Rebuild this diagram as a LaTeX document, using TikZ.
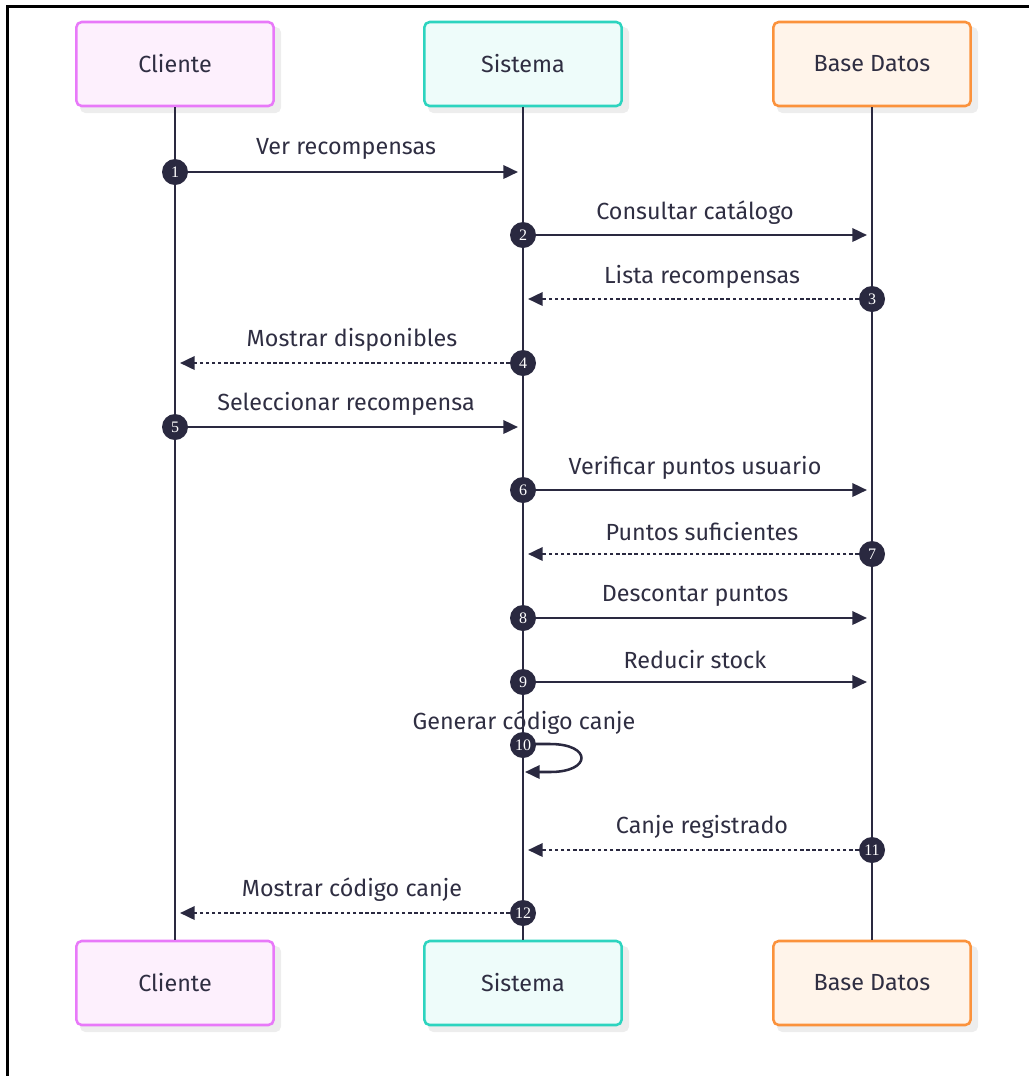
\documentclass[tikz,border=0pt]{standalone}
\usepackage{fontspec}
\setmainfont{Fira Sans}
\newfontfamily\numfont{Liberation Serif}
\usetikzlibrary{arrows.meta}

\definecolor{ink}{HTML}{2A2940}
\definecolor{txt}{HTML}{2F2E42}
\definecolor{cliBorder}{HTML}{E879F9}
\definecolor{cliFill}{HTML}{FDF0FD}
\definecolor{sysBorder}{HTML}{2DD4BF}
\definecolor{sysFill}{HTML}{EEFCFA}
\definecolor{dbBorder}{HTML}{FB923C}
\definecolor{dbFill}{HTML}{FFF4EA}
\definecolor{shade}{HTML}{EDEDED}

\tikzset{
  actor/.style={rectangle, rounded corners=4pt, line width=1.9pt,
    minimum width=148pt, minimum height=63pt, text=txt,
    font=\fontsize{17.5pt}{20pt}\selectfont},
  cliente/.style={actor, draw=cliBorder, fill=cliFill},
  sistema/.style={actor, draw=sysBorder, fill=sysFill},
  basedatos/.style={actor, draw=dbBorder, fill=dbFill},
  boxshadow/.style={fill=shade, rounded corners=4pt},
  lifeline/.style={draw=ink, line width=1.9pt},
  msg/.style={draw=ink, line width=1.9pt, -{Triangle[length=11pt,width=10pt]}},
  reply/.style={msg, dash pattern=on 2.6pt off 2pt},
  num/.style={circle, fill=ink, text=white, inner sep=0pt, minimum size=19.5pt,
    font=\numfont\fontsize{12pt}{13pt}\selectfont},
  lbl/.style={text=txt, inner sep=0pt, font=\fontsize{17.5pt}{20pt}\selectfont}
}

\begin{document}
\begin{tikzpicture}[x=0.75pt, y=-0.75pt]
\useasboundingbox (0,0) rectangle (1029,1076);

% outer frame (left and top edges)
\draw[black, line width=1.6pt] (7.5,1076) -- (7.5,6.5) -- (1029,6.5);

% box shadows
\foreach \cx in {175,523,872}{
  \fill[boxshadow] (\cx-95,27) rectangle (\cx+106,113);
  \fill[boxshadow] (\cx-95,946) rectangle (\cx+106,1032);
}

% participants
\node[cliente]   (cliTop) at (175,64)  {Cliente};
\node[sistema]   (sysTop) at (523,64)  {Sistema};
\node[basedatos] (dbTop)  at (872,64)  {Base Datos};
\node[cliente]   (cliBot) at (175,983) {Cliente};
\node[sistema]   (sysBot) at (523,983) {Sistema};
\node[basedatos] (dbBot)  at (872,983) {Base Datos};

% lifelines
\draw[lifeline] (cliTop.south) -- (cliBot.north);
\draw[lifeline] (sysTop.south) -- (sysBot.north);
\draw[lifeline] (dbTop.south) -- (dbBot.north);

% 1
\node[num] (n1) at (175,172) {1};
\coordinate (t1) at (518,172);
\draw[msg] (n1) -- (t1);
\node[lbl] (l1) at (346,149) {Ver recompensas};
% 2
\node[num] (n2) at (523,235) {2};
\coordinate (t2) at (867,235);
\draw[msg] (n2) -- (t2);
\node[lbl] (l2) at (695,213) {Consultar catálogo};
% 3
\node[num] (n3) at (872,299) {3};
\coordinate (t3) at (528,299);
\draw[reply] (n3) -- (t3);
\node[lbl] (l3) at (702,277) {Lista recompensas};
% 4
\node[num] (n4) at (523,363) {4};
\coordinate (t4) at (180,363);
\draw[reply] (n4) -- (t4);
\node[lbl] (l4) at (352,340) {Mostrar disponibles};
% 5
\node[num] (n5) at (175,427) {5};
\coordinate (t5) at (518,427);
\draw[msg] (n5) -- (t5);
\node[lbl] (l5) at (346,404) {Seleccionar recompensa};
% 6
\node[num] (n6) at (523,490) {6};
\coordinate (t6) at (867,490);
\draw[msg] (n6) -- (t6);
\node[lbl] (l6) at (695,468) {Verificar puntos usuario};
% 7
\node[num] (n7) at (872,554) {7};
\coordinate (t7) at (528,554);
\draw[reply] (n7) -- (t7);
\node[lbl] (l7) at (702,532) {Puntos suficientes};
% 8
\node[num] (n8) at (523,618) {8};
\coordinate (t8) at (867,618);
\draw[msg] (n8) -- (t8);
\node[lbl] (l8) at (695,596) {Descontar puntos};
% 9
\node[num] (n9) at (523,682) {9};
\coordinate (t9) at (867,682);
\draw[msg] (n9) -- (t9);
\node[lbl] (l9) at (695,660) {Reducir stock};
% 10 (self call)
\node[lbl] (l10) at (524,723) {Generar código canje};
\coordinate (s10) at (523,744);
\coordinate (t10) at (525,772);
\draw[msg] (s10) -- (550,744) .. controls (592,744) and (592,772) .. (550,772) -- (t10);
\node[num] (n10) at (523,745) {10};
% 11
\node[num] (n11) at (872,850) {11};
\coordinate (t11) at (528,850);
\draw[reply] (n11) -- (t11);
\node[lbl] (l11) at (702,827) {Canje registrado};
% 12
\node[num] (n12) at (523,913) {12};
\coordinate (t12) at (180,913);
\draw[reply] (n12) -- (t12);
\node[lbl] (l12) at (352,890) {Mostrar código canje};
\end{tikzpicture}
\end{document}
